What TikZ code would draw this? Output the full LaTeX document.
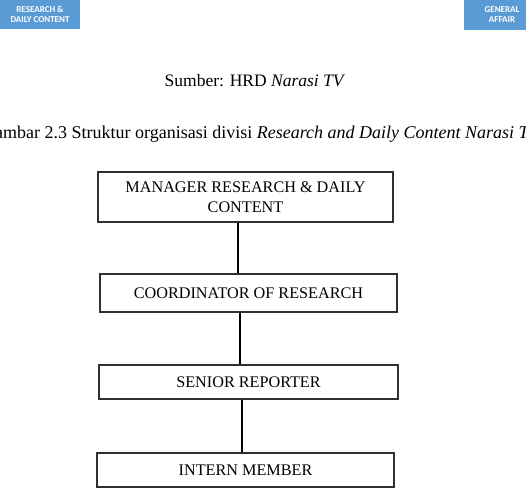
\documentclass[tikz,border=0pt]{standalone}
\usepackage{fontspec}
\setmainfont{Liberation Serif}
\newfontfamily\boxsans{Carlito}
\definecolor{tabblue}{HTML}{5B9BD5}
\definecolor{boxline}{HTML}{303030}
\begin{document}
\begin{tikzpicture}[x=1pt,y=1pt,
  tab/.style={fill=tabblue, draw=none, text=white, font=\boxsans\bfseries\fontsize{9}{10}\selectfont, align=center},
  orgbox/.style={draw=boxline, line width=1.1pt, fill=white, align=center, font=\fontsize{16.2}{20}\selectfont, inner sep=0pt},
  conn/.style={line width=2.8pt, draw=black}
]
\useasboundingbox (0,0) rectangle (526,494);
\clip (0,0) rectangle (526,494);
% top tabs
\node[tab, minimum width=80pt, minimum height=29pt] (tabL) at (40,479.5) {RESEARCH \&\\DAILY CONTENT};
\node[tab, minimum width=76pt, minimum height=30pt] (tabR) at (502,479) {GENERAL\\AFFAIR};
% source line
\node[anchor=base, font=\fontsize{17.5}{20}\selectfont, inner sep=0pt] (src) at (255,407) {Sumber: HRD \textit{Narasi TV}};
% caption
\node[anchor=base west, font=\fontsize{18}{20}\selectfont, inner sep=0pt] (cap) at (3,355) {\llap{Ga}mbar 2.3 Struktur organisasi divisi \textit{Research and Daily Content Narasi TV}};
% boxes
\node[orgbox, minimum width=295pt, minimum height=50pt] (b1) at (245.5,297) {MANAGER RESEARCH \& DAILY\\CONTENT};
\node[orgbox, minimum width=297pt, minimum height=38pt] (b2) at (248.5,201) {COORDINATOR OF RESEARCH};
\node[orgbox, minimum width=299pt, minimum height=34pt] (b3) at (248.5,112) {SENIOR REPORTER};
\node[orgbox, minimum width=297pt, minimum height=34pt] (b4) at (245.5,24) {INTERN MEMBER};
% connector anchors
\coordinate (c1) at (b1.south -| 238,0);
\coordinate (c2) at (b2.south -| 240,0);
\coordinate (c3) at (b3.south -| 242,0);
\draw[conn] (c1) -- (c1 |- b2.north);
\draw[conn] (c2) -- (c2 |- b3.north);
\draw[conn] (c3) -- (c3 |- b4.north);
\end{tikzpicture}
\end{document}
